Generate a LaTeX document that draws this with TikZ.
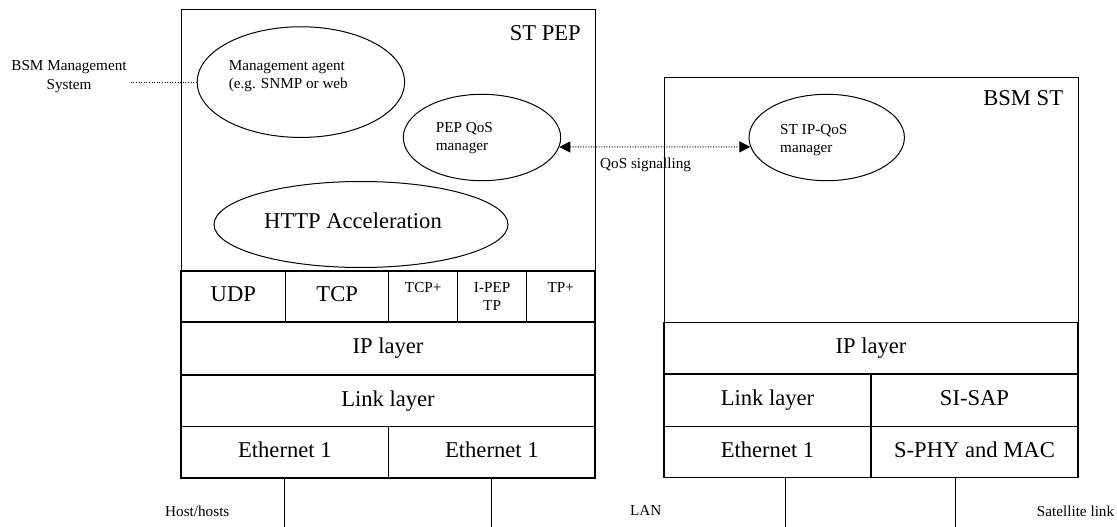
\documentclass[tikz,border=0pt]{standalone}
\usepackage{fontspec}
\setmainfont{Liberation Serif}
\usetikzlibrary{shapes.geometric,arrows.meta}
\begin{document}
\begin{tikzpicture}[x=1pt,y=-1pt,
  small/.style={font=\fontsize{15.2}{18.5}\selectfont},
  big/.style={font=\fontsize{22.6}{26}\selectfont},
  txt/.style={inner sep=0pt},
  frame/.style={draw, line width=1pt, rectangle, inner sep=0pt},
  cell/.style={draw, line width=1.3pt, rectangle, inner sep=0pt, big, text height=15.6pt, text depth=5pt},
  smallcell/.style={draw, line width=1.3pt, rectangle, inner sep=0pt, small, align=center},
  ell/.style={draw, ellipse, line width=1pt, inner sep=0pt},
  sig/.style={line width=1pt, dash pattern=on 1pt off 1.6pt},
  wire/.style={line width=1pt},
  sigtip/.tip={Triangle[length=11pt,width=11pt]}
]
\useasboundingbox (0,0) rectangle (1117,527);

% outer boxes
\node[frame, minimum width=414pt, minimum height=468pt] (stpep) at (388,244) {};
\node[frame, minimum width=414pt, minimum height=399.6pt] (bsmst) at (871,277.5) {};

% ST PEP stack
\node[cell, minimum width=104.7pt, minimum height=51pt] (udp) at (233.35,296.5) {UDP};
\node[cell, minimum width=103pt, minimum height=51pt] (tcp) at (337.2,296.5) {TCP};
\node[smallcell, minimum width=69pt, minimum height=51pt, text height=10.1pt, text depth=18.5pt] (tcpp) at (423.2,296.5) {TCP+};
\node[smallcell, minimum width=68.8pt, minimum height=51pt] (ipep) at (492.1,296.5) {I-PEP\\TP};
\node[smallcell, minimum width=68.5pt, minimum height=51pt, text height=10.1pt, text depth=18.5pt] (tpp) at (560.75,296.5) {TP+};
\node[cell, minimum width=414pt, minimum height=53pt] (ip1) at (388,348.5) {IP layer};
\node[cell, minimum width=414pt, minimum height=51.5pt] (link1) at (388,400.75) {Link layer};
\node[cell, minimum width=207.7pt, minimum height=51.5pt] (eth1) at (284.85,452.25) {Ethernet 1};
\node[cell, minimum width=206.3pt, minimum height=51.5pt] (eth2) at (491.85,452.25) {Ethernet 1};

% BSM ST stack
\node[cell, minimum width=414pt, minimum height=51.3pt] (ip2) at (871,348.35) {IP layer};
\node[cell, minimum width=207pt, minimum height=52.3pt] (link2) at (767.5,400.15) {Link layer};
\node[cell, minimum width=207pt, minimum height=52.3pt] (sisap) at (974.5,400.15) {SI-SAP};
\node[cell, minimum width=207pt, minimum height=51pt] (reth) at (767.5,451.8) {Ethernet 1};
\node[cell, minimum width=207pt, minimum height=51pt] (sphy) at (974.5,451.8) {S-PHY and MAC};

% box titles
\node[big, txt, anchor=base east] (stpeplbl) at (581,40.5) {ST PEP};
\node[big, txt, anchor=base east] (bsmstlbl) at (1063.3,105.8) {BSM ST};

% ellipses
\node[ell, minimum width=207.5pt, minimum height=110.7pt] (mgmt) at (300.9,82.1) {};
\node[ell, minimum width=157.4pt, minimum height=86.4pt] (pepqos) at (482,137.5) {};
\node[ell, minimum width=294pt, minimum height=86pt] (http) at (361,224.5) {};
\node[ell, minimum width=155.4pt, minimum height=86.4pt] (stqos) at (826.7,137.5) {};

% ellipse texts
\node[small, txt, align=left, anchor=west] (mgmttxt) at (228.6,76.3) {Management agent\\(e.g. SNMP or web};
\node[small, txt, align=left, anchor=west] (peptxt) at (435.7,138.2) {PEP QoS\\manager};
\node[small, txt, align=left, anchor=west] (sttxt) at (780,140) {ST IP-QoS\\manager};
\node[big, txt, anchor=base] (httptxt) at (353,228.2) {HTTP Acceleration};

% management system
\node[small, inner sep=4pt, align=center] (bsmms) at (69,76.5) {BSM Management\\System};
\draw[sig] (bsmms.east |- mgmt.west) -- (mgmt.west);

% QoS signalling
\draw[sig, sigtip-sigtip] (pepqos.-7) -- (stqos.187);
\node[small, txt, anchor=base west] (qoslbl) at (600,168) {QoS signalling};

% attachment lines
\coordinate (bot) at (0,527);
\coordinate (lanpt) at (785,527);
\coordinate (satpt) at (955.3,527);
\draw[wire] (eth1.south) -- (eth1.south |- bot);
\draw[wire] (eth2.south) -- (eth2.south |- bot);
\draw[wire] (reth.south -| lanpt) -- (lanpt);
\draw[wire] (sphy.south -| satpt) -- (satpt);

\node[small, txt, anchor=base west] (hostlbl) at (165,516.5) {Host/hosts};
\node[small, txt, anchor=base west] (lanlbl) at (630,515) {LAN};
\node[small, txt, anchor=base west] (satlbl) at (1036.7,516.5) {Satellite link};
\end{tikzpicture}
\end{document}
